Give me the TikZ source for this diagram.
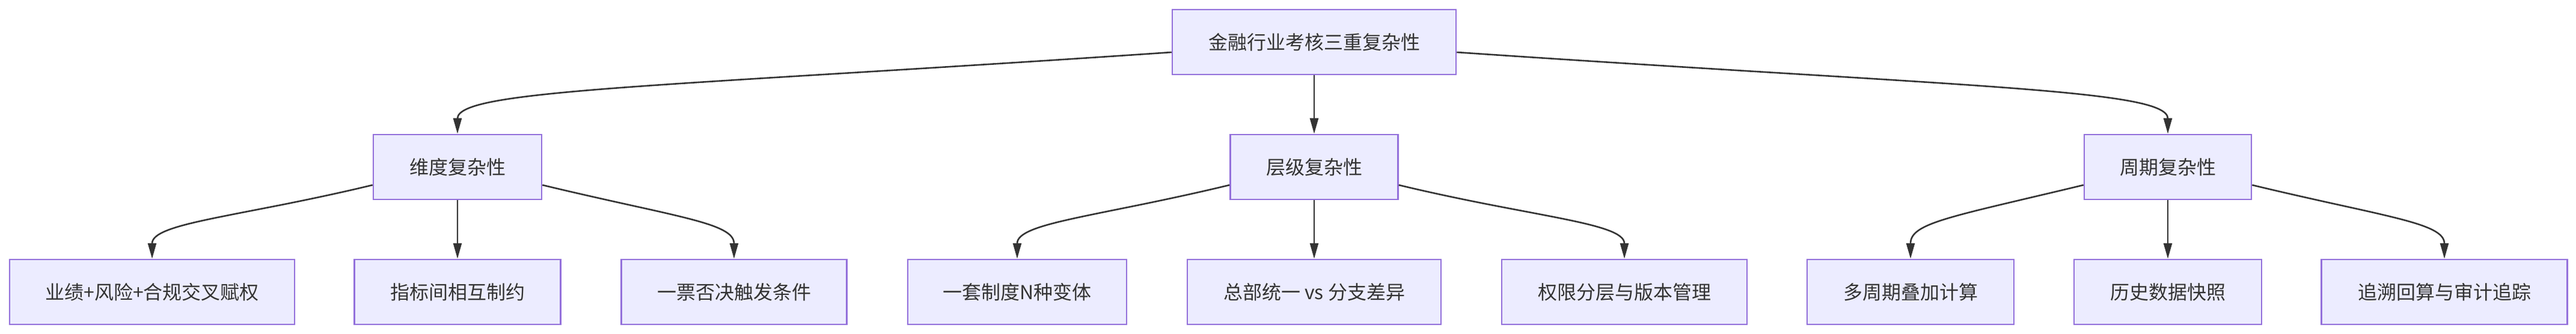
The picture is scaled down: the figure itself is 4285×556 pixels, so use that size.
\documentclass[tikz,border=0pt]{standalone}
\usepackage{fontspec}
\setmainfont{Noto Sans CJK SC}
\usetikzlibrary{arrows.meta}
\definecolor{boxfill}{HTML}{ECECFF}
\definecolor{boxline}{HTML}{9370DB}
\definecolor{edgecol}{HTML}{333333}
\begin{document}
\begin{tikzpicture}[x=1pt,y=-1pt,
    box/.style={draw=boxline,fill=boxfill,line width=2.5pt,minimum height=108pt,
      inner sep=0pt,text=edgecol,font=\fontsize{32}{38}\selectfont},
    edge/.style={draw=edgecol,line width=2.6pt,-{Triangle[length=26pt,width=14pt]}}]
  \useasboundingbox (0,0) rectangle (4285,556);
  % top
  \node[box,minimum width=472pt] (root) at (2186,70) {金融行业考核三重复杂性};
  % middle row
  \node[box,minimum width=280pt] (dim) at (761,278) {维度复杂性};
  \node[box,minimum width=279pt] (lvl) at (2186,278) {层级复杂性};
  \node[box,minimum width=278pt] (per) at (3606,278) {周期复杂性};
  % leaves
  \node[box,minimum width=474pt] (d1) at (253,486) {业绩+风险+合规交叉赋权};
  \node[box,minimum width=343pt] (d2) at (761,486) {指标间相互制约};
  \node[box,minimum width=375pt] (d3) at (1221,486) {一票否决触发条件};
  \node[box,minimum width=364pt] (l1) at (1692,486) {一套制度N种变体};
  \node[box,minimum width=422pt] (l2) at (2186,486) {总部统一 vs 分支差异};
  \node[box,minimum width=408pt] (l3) at (2702,486) {权限分层与版本管理};
  \node[box,minimum width=344pt] (p1) at (3178,486) {多周期叠加计算};
  \node[box,minimum width=312pt] (p2) at (3606,486) {历史数据快照};
  \node[box,minimum width=409pt] (p3) at (4066,486) {追溯回算与审计追踪};
  % connectors
  \draw[edge] ([yshift=-17pt]root.west) .. controls +(-850,58) and +(0,-74) .. (dim.north);
  \draw[edge] (root) -- (lvl);
  \draw[edge] ([yshift=-17pt]root.east) .. controls +(850,58) and +(0,-74) .. (per.north);
  \foreach \m/\a/\b/\c in {dim/d1/d2/d3,lvl/l1/l2/l3,per/p1/p2/p3}{
    \draw[edge] ([yshift=-30pt]\m.west) .. controls +(-220,53) and +(0,-60) .. (\a.north);
    \draw[edge] (\m) -- (\b);
    \draw[edge] ([yshift=-30pt]\m.east) .. controls +(220,53) and +(0,-60) .. (\c.north);
  }
\end{tikzpicture}
\end{document}
